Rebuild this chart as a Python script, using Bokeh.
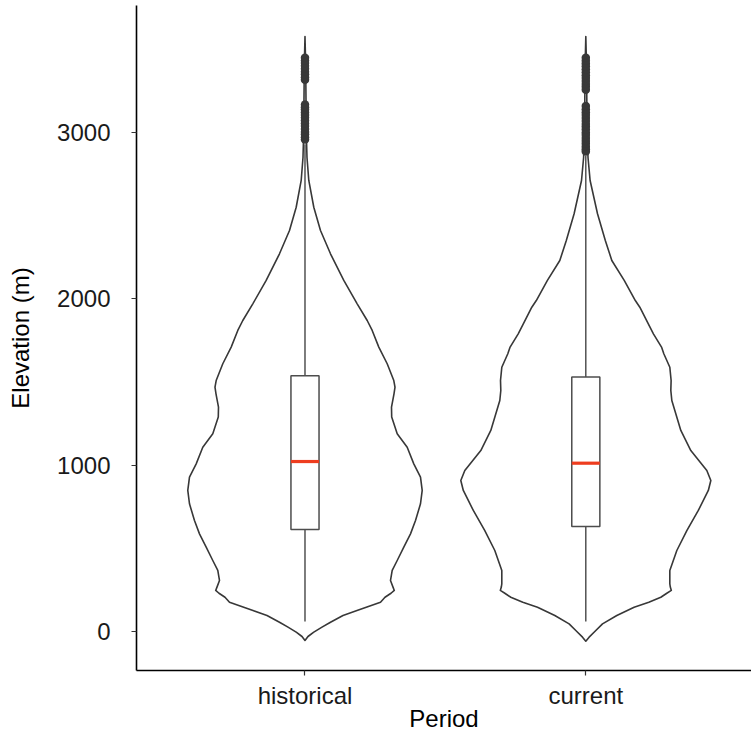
import numpy as np
from bokeh.plotting import figure
from bokeh.models import Range1d, FixedTicker
from bokeh.embed import file_html
from bokeh.resources import INLINE

# ---------------- data ----------------
periods = ["historical", "current"]
period_pos = [1, 2]

# violin outlines: elevation (m) and relative density (half-width units)
hist_elev = [-54, -30, -4, 26, 56, 96, 126, 176, 206, 230, 247, 267, 307, 367, 427, 507, 587, 667, 768, 848,
             928, 1008, 1108, 1189, 1289, 1349, 1429, 1469, 1509, 1610, 1710, 1810, 1870, 1970, 2111, 2271,
             2411, 2551, 2712, 2850, 3000, 3200, 3400, 3578]
hist_density = [0, 3, 8.8, 17, 25.5, 38, 52, 75.5, 80, 86, 89.3, 88, 85.5, 87.2, 92.2, 98.8, 105.5, 110.5, 115.5, 117.2,
                115.5, 108.8, 102.2, 92.2, 86.7, 86.5, 89, 90, 88.8, 82.2, 73.8, 67.2, 62.2, 52.2, 38.8, 25.5,
                15.5, 8.8, 3.8, 2, 1.3, 1, 0.7, 0]

curr_elev = [-58, -34, 0, 46, 96, 146, 176, 206, 230, 247, 267, 287, 367, 487, 607, 728, 848, 908, 968, 1088,
             1209, 1329, 1389, 1449, 1509, 1589, 1670, 1710, 1790, 1850, 1950, 1990, 2111, 2231, 2351, 2512,
             2712, 2850, 3000, 3200, 3400, 3578]
curr_density = [0, 3.3, 9, 16.7, 31, 48.3, 63, 75, 81, 85.5, 84.5, 84, 84, 91, 101, 112.5, 122.5, 125, 121, 105,
                95, 89, 86, 85, 85.3, 84, 78, 75.7, 67.6, 62.5, 54, 49.5, 38.4, 26, 19.5, 11.7,
                4.3, 2.2, 1.4, 1, 0.7, 0]

# box statistics
box_low = [60, 60]
box_q1 = [613, 631]
box_median = [1022, 1012]
box_q3 = [1538, 1530]
box_high = [2930, 2860]

# outliers
hist_outliers = [2958, 2972, 2990, 3004, 3021, 3040, 3055, 3072, 3090, 3105, 3121, 3138, 3152, 3168,
                 3318, 3333, 3350, 3366, 3384, 3401, 3418, 3434, 3450]
curr_outliers = [2886, 2900, 2915, 2933, 2950, 2968, 2985, 3000, 3018, 3036, 3052, 3070, 3088, 3105, 3122,
                 3140, 3159, 3258, 3275, 3292, 3310, 3328, 3345, 3362, 3380, 3398, 3415, 3432, 3450]

y_ticks = [0, 1000, 2000, 3000]

# ---------------- figure ----------------
VIOLIN_SCALE = 1.0 / 280.8
BOX_HALF = 0.05
FONT = "Liberation Sans"
LINE = "#383838"

p = figure(width=751, height=734, output_backend="svg", toolbar_location=None,
           x_range=Range1d(0.4, 2.59), y_range=Range1d(-234.5, 3764),
           min_border_left=136, min_border_right=0, min_border_top=5, min_border_bottom=64)
p.outline_line_color = None
p.xgrid.visible = False
p.ygrid.visible = False
p.background_fill_color = "white"
p.border_fill_color = "white"

violins = [(period_pos[0], hist_elev, hist_density), (period_pos[1], curr_elev, curr_density)]
for c, elev, dens in violins:
    e = np.array(elev, dtype=float)
    d = np.array(dens, dtype=float) * VIOLIN_SCALE
    xs = np.concatenate([c + d, (c - d)[::-1]])
    ys = np.concatenate([e, e[::-1]])
    p.patch(xs, ys, fill_color="white", line_color=LINE, line_width=1.6, line_join="round")

# whiskers
p.segment(x0=period_pos, y0=box_low, x1=period_pos, y1=box_q1, line_color=LINE, line_width=1.3)
p.segment(x0=period_pos, y0=box_q3, x1=period_pos, y1=box_high, line_color=LINE, line_width=1.3)

# boxes
lefts = [c - BOX_HALF for c in period_pos]
rights = [c + BOX_HALF for c in period_pos]
p.quad(left=lefts, right=rights, bottom=box_q1, top=box_q3, fill_color="white",
       line_color="#4d4d4d", line_width=1.5)
p.segment(x0=lefts, y0=box_median, x1=rights, y1=box_median, line_color="#EE3D1F", line_width=3.2)

# outliers
p.scatter(x=[period_pos[0]] * len(hist_outliers), y=hist_outliers, size=8.5,
          fill_color=LINE, line_color=None)
p.scatter(x=[period_pos[1]] * len(curr_outliers), y=curr_outliers, size=8.5,
          fill_color=LINE, line_color=None)

# axes
p.xaxis.ticker = FixedTicker(ticks=period_pos)
p.xaxis.major_label_overrides = {pos: name for pos, name in zip(period_pos, periods)}
p.yaxis.ticker = FixedTicker(ticks=y_ticks)
p.xaxis.minor_tick_line_color = None
p.yaxis.minor_tick_line_color = None
for ax in (p.xaxis[0], p.yaxis[0]):
    ax.axis_line_color = "black"
    ax.axis_line_width = 1.6
    ax.major_tick_line_color = "#333333"
    ax.major_tick_line_width = 1.2
    ax.major_tick_out = 5
    ax.major_tick_in = 0
    ax.major_label_text_font = FONT
    ax.major_label_text_font_size = "24px"
    ax.major_label_text_color = "#1a1a1a"
    ax.axis_label_text_font = FONT
    ax.axis_label_text_font_size = "24px"
    ax.axis_label_text_font_style = "normal"
    ax.axis_label_text_color = "black"

p.xaxis.axis_label = "Period"
p.yaxis.axis_label = "Elevation (m)"
p.yaxis.major_label_standoff = 21
p.yaxis.axis_label_standoff = 20
p.xaxis.major_label_standoff = 6
p.xaxis.axis_label_standoff = -7

open("out.html", "w").write(file_html(p, INLINE))
